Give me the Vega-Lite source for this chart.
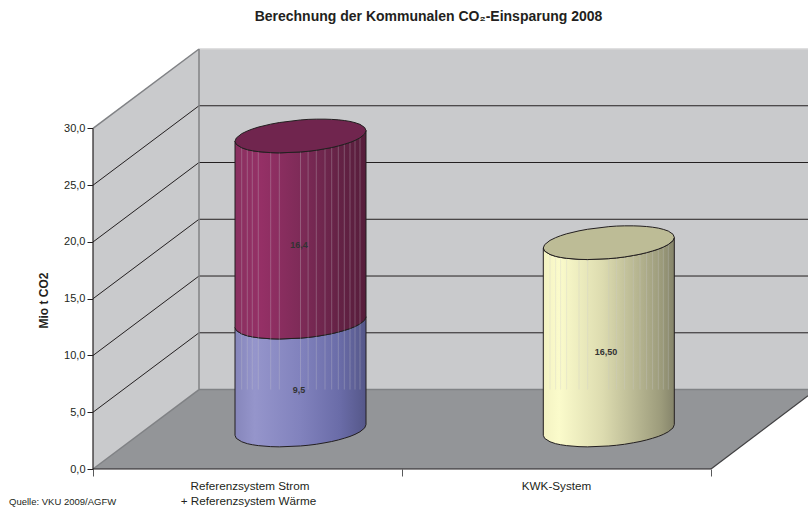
{
"$schema":"https://vega.github.io/schema/vega-lite/v6.json",
"width":715,"height":420,
"autosize":{"type":"none"},
"padding":{"left":93,"top":49,"right":0,"bottom":40},
"background":"white",
"view":{"stroke":null},
"title":{"text":"Berechnung der Kommunalen CO₂-Einsparung 2008","font":"Liberation Sans","fontSize":14,"fontWeight":"bold","color":"#231f20","anchor":"middle","dx":-22,"offset":24},
"datasets":{
"planes":[
{"part":"back","x":106,"lo":7,"hi":37},{"part":"back","x":715,"lo":7,"hi":37},
{"part":"side","x":0,"lo":0,"hi":30},{"part":"side","x":106,"lo":7,"hi":37},
{"part":"floor","x":0,"lo":0,"hi":0},{"part":"floor","x":106,"lo":0,"hi":7},{"part":"floor","x":618,"lo":0,"hi":7},{"part":"floor","x":715,"lo":6.45,"hi":7}
],
"lines":[
{"part":"grid","x":106,"x2":715,"lo":12,"hi":12},{"part":"grid","x":106,"x2":715,"lo":17,"hi":17},{"part":"grid","x":106,"x2":715,"lo":22,"hi":22},{"part":"grid","x":106,"x2":715,"lo":27,"hi":27},{"part":"grid","x":106,"x2":715,"lo":32,"hi":32},
{"part":"grid","x":0,"x2":106,"lo":5,"hi":12},{"part":"grid","x":0,"x2":106,"lo":10,"hi":17},{"part":"grid","x":0,"x2":106,"lo":15,"hi":22},{"part":"grid","x":0,"x2":106,"lo":20,"hi":27},{"part":"grid","x":0,"x2":106,"lo":25,"hi":32},
{"part":"edge","x":0,"x2":106,"lo":30,"hi":37},{"part":"edge","x":106,"x2":106,"lo":7,"hi":37},{"part":"edge","x":106,"x2":715,"lo":7,"hi":7},{"part":"edge","x":0,"x2":106,"lo":0,"hi":7},
{"part":"light","x":106,"x2":715,"lo":37,"hi":37},
{"part":"axis","x":0,"x2":0,"lo":0,"hi":30},{"part":"axis","x":0,"x2":618,"lo":0,"hi":0},{"part":"edge2","x":618,"x2":715,"lo":0,"hi":6.45}
],
"cyl":[
{"shape":"blue","x":142,"lo":2.97,"hi":12.47},{"shape":"blue","x":143.3,"lo":2.70,"hi":12.20},{"shape":"blue","x":148.7,"lo":2.40,"hi":11.90},{"shape":"blue","x":154.3,"lo":2.23,"hi":11.73},{"shape":"blue","x":159.3,"lo":2.14,"hi":11.64},{"shape":"blue","x":165.3,"lo":2.06,"hi":11.56},{"shape":"blue","x":177.7,"lo":1.97,"hi":11.47},{"shape":"blue","x":186.3,"lo":1.95,"hi":11.45},{"shape":"blue","x":207.5,"lo":2.03,"hi":11.53},{"shape":"blue","x":215.1,"lo":2.09,"hi":11.59},{"shape":"blue","x":223.3,"lo":2.18,"hi":11.68},{"shape":"blue","x":232,"lo":2.31,"hi":11.81},{"shape":"blue","x":238.7,"lo":2.42,"hi":11.92},{"shape":"blue","x":245.3,"lo":2.56,"hi":12.06},{"shape":"blue","x":251.3,"lo":2.71,"hi":12.21},{"shape":"blue","x":257,"lo":2.87,"hi":12.37},{"shape":"blue","x":262,"lo":3.05,"hi":12.55},{"shape":"blue","x":267,"lo":3.28,"hi":12.78},{"shape":"blue","x":271.7,"lo":3.62,"hi":13.12},{"shape":"blue","x":273,"lo":3.91,"hi":13.41},
{"shape":"red","x":142,"lo":12.47,"hi":28.87},{"shape":"red","x":143.3,"lo":12.20,"hi":28.60},{"shape":"red","x":148.7,"lo":11.90,"hi":28.30},{"shape":"red","x":154.3,"lo":11.73,"hi":28.13},{"shape":"red","x":159.3,"lo":11.64,"hi":28.04},{"shape":"red","x":165.3,"lo":11.56,"hi":27.96},{"shape":"red","x":177.7,"lo":11.47,"hi":27.87},{"shape":"red","x":186.3,"lo":11.45,"hi":27.85},{"shape":"red","x":207.5,"lo":11.53,"hi":27.93},{"shape":"red","x":215.1,"lo":11.59,"hi":27.99},{"shape":"red","x":223.3,"lo":11.68,"hi":28.08},{"shape":"red","x":232,"lo":11.81,"hi":28.21},{"shape":"red","x":238.7,"lo":11.92,"hi":28.32},{"shape":"red","x":245.3,"lo":12.06,"hi":28.46},{"shape":"red","x":251.3,"lo":12.21,"hi":28.61},{"shape":"red","x":257,"lo":12.37,"hi":28.77},{"shape":"red","x":262,"lo":12.55,"hi":28.95},{"shape":"red","x":267,"lo":12.78,"hi":29.18},{"shape":"red","x":271.7,"lo":13.12,"hi":29.52},{"shape":"red","x":273,"lo":13.41,"hi":29.81},
{"shape":"yellow","x":450.3,"lo":2.97,"hi":19.47},{"shape":"yellow","x":451.6,"lo":2.70,"hi":19.20},{"shape":"yellow","x":457,"lo":2.40,"hi":18.90},{"shape":"yellow","x":462.6,"lo":2.23,"hi":18.73},{"shape":"yellow","x":467.6,"lo":2.14,"hi":18.64},{"shape":"yellow","x":473.6,"lo":2.06,"hi":18.56},{"shape":"yellow","x":486,"lo":1.97,"hi":18.47},{"shape":"yellow","x":494.6,"lo":1.95,"hi":18.45},{"shape":"yellow","x":515.8,"lo":2.03,"hi":18.53},{"shape":"yellow","x":523.4,"lo":2.09,"hi":18.59},{"shape":"yellow","x":531.6,"lo":2.18,"hi":18.68},{"shape":"yellow","x":540.3,"lo":2.31,"hi":18.81},{"shape":"yellow","x":547,"lo":2.42,"hi":18.92},{"shape":"yellow","x":553.6,"lo":2.56,"hi":19.06},{"shape":"yellow","x":559.6,"lo":2.71,"hi":19.21},{"shape":"yellow","x":565.3,"lo":2.87,"hi":19.37},{"shape":"yellow","x":570.3,"lo":3.05,"hi":19.55},{"shape":"yellow","x":575.3,"lo":3.28,"hi":19.78},{"shape":"yellow","x":580,"lo":3.62,"hi":20.12},{"shape":"yellow","x":581.3,"lo":3.91,"hi":20.41}
],
"tops":[
{"shape":"red","x":142,"lo":28.87,"hi":28.87},{"shape":"red","x":143.3,"lo":28.60,"hi":29.16},{"shape":"red","x":148.7,"lo":28.30,"hi":29.54},{"shape":"red","x":154.3,"lo":28.13,"hi":29.78},{"shape":"red","x":159.3,"lo":28.04,"hi":29.95},{"shape":"red","x":165.3,"lo":27.96,"hi":30.12},{"shape":"red","x":177.7,"lo":27.87,"hi":30.38},{"shape":"red","x":186.3,"lo":27.85,"hi":30.52},{"shape":"red","x":207.5,"lo":27.93,"hi":30.75},{"shape":"red","x":215.1,"lo":27.99,"hi":30.80},{"shape":"red","x":223.3,"lo":28.08,"hi":30.82},{"shape":"red","x":232,"lo":28.21,"hi":30.82},{"shape":"red","x":238.7,"lo":28.32,"hi":30.80},{"shape":"red","x":245.3,"lo":28.46,"hi":30.76},{"shape":"red","x":251.3,"lo":28.61,"hi":30.70},{"shape":"red","x":257,"lo":28.77,"hi":30.62},{"shape":"red","x":262,"lo":28.95,"hi":30.51},{"shape":"red","x":267,"lo":29.18,"hi":30.36},{"shape":"red","x":271.7,"lo":29.52,"hi":30.08},{"shape":"red","x":273,"lo":29.81,"hi":29.81},
{"shape":"yellow","x":450.3,"lo":19.47,"hi":19.47},{"shape":"yellow","x":451.6,"lo":19.20,"hi":19.76},{"shape":"yellow","x":457,"lo":18.90,"hi":20.14},{"shape":"yellow","x":462.6,"lo":18.73,"hi":20.38},{"shape":"yellow","x":467.6,"lo":18.64,"hi":20.55},{"shape":"yellow","x":473.6,"lo":18.56,"hi":20.72},{"shape":"yellow","x":486,"lo":18.47,"hi":20.98},{"shape":"yellow","x":494.6,"lo":18.45,"hi":21.12},{"shape":"yellow","x":515.8,"lo":18.53,"hi":21.35},{"shape":"yellow","x":523.4,"lo":18.59,"hi":21.40},{"shape":"yellow","x":531.6,"lo":18.68,"hi":21.42},{"shape":"yellow","x":540.3,"lo":18.81,"hi":21.42},{"shape":"yellow","x":547,"lo":18.92,"hi":21.40},{"shape":"yellow","x":553.6,"lo":19.06,"hi":21.36},{"shape":"yellow","x":559.6,"lo":19.21,"hi":21.30},{"shape":"yellow","x":565.3,"lo":19.37,"hi":21.22},{"shape":"yellow","x":570.3,"lo":19.55,"hi":21.11},{"shape":"yellow","x":575.3,"lo":19.78,"hi":20.96},{"shape":"yellow","x":580,"lo":20.12,"hi":20.68},{"shape":"yellow","x":581.3,"lo":20.41,"hi":20.41}
],
"texts":[
{"kind":"value","x":206,"lo":19.7,"label":"16,4"},
{"kind":"value","x":206,"lo":6.96,"label":"9,5"},
{"kind":"value","x":513,"lo":10.3,"label":"16,50"},
{"kind":"cat","x":157,"lo":-1.5,"label":"Referenzsystem Strom"},
{"kind":"cat","x":155.5,"lo":-2.82,"label":"+ Referenzsystem Wärme"},
{"kind":"cat","x":463.5,"lo":-1.5,"label":"KWK-System"},
{"kind":"source","x":-84,"lo":-2.93,"label":"Quelle: VKU 2009/AGFW"}
]
},
"encoding":{
"x":{"field":"x","type":"quantitative","scale":{"domain":[0,715],"nice":false,"zero":false},"axis":{"values":[0,309,618],"labels":false,"ticks":true,"tickSize":7,"tickColor":"#58595b","domain":false,"grid":false,"title":null}},
"y":{"field":"lo","type":"quantitative","scale":{"domain":[0,37],"nice":false,"zero":false},"axis":{"values":[0,5,10,15,20,25,30],"labelExpr":"replace(format(datum.value,'.1f'),'.',',')","labelFont":"Liberation Sans","labelFontSize":11,"labelColor":"#231f20","labelPadding":2,"tickSize":6,"tickColor":"#231f20","domain":false,"grid":false,"title":"Mio t CO2","titleFont":"Liberation Sans","titleFontSize":12,"titleFontWeight":"bold","titleColor":"#231f20","titleX":-43,"titleY":251}},
"y2":{"field":"hi"}
},
"layer":[
{"data":{"name":"planes"},"transform":[{"filter":"datum.part=='back'"}],"mark":{"type":"area","orient":"vertical","color":"#c9cacc"}},
{"data":{"name":"planes"},"transform":[{"filter":"datum.part=='side'"}],"mark":{"type":"area","orient":"vertical","color":"#c9cacc"}},
{"data":{"name":"planes"},"transform":[{"filter":"datum.part=='floor'"}],"mark":{"type":"area","orient":"vertical","color":"#939598"}},
{"data":{"name":"lines"},"transform":[{"filter":"datum.part=='light'"}],"mark":{"type":"rule","color":"#d4d5d6","strokeWidth":1.5},"encoding":{"x2":{"field":"x2"}}},
{"data":{"name":"lines"},"transform":[{"filter":"datum.part=='grid'"}],"mark":{"type":"rule","color":"#231f20","strokeWidth":1},"encoding":{"x2":{"field":"x2"}}},
{"data":{"name":"lines"},"transform":[{"filter":"datum.part=='edge'"}],"mark":{"type":"rule","color":"#808285","strokeWidth":1.5},"encoding":{"x2":{"field":"x2"}}},
{"data":{"name":"lines"},"transform":[{"filter":"datum.part=='edge2'"}],"mark":{"type":"rule","color":"#414042","strokeWidth":1.2},"encoding":{"x2":{"field":"x2"}}},
{"data":{"name":"lines"},"transform":[{"filter":"datum.part=='axis'"}],"mark":{"type":"rule","color":"#231f20","strokeWidth":1.2},"encoding":{"x2":{"field":"x2"}}},
{"data":{"name":"cyl"},"transform":[{"filter":"datum.shape=='blue'"}],"mark":{"type":"area","orient":"vertical","stroke":"#231f20","strokeWidth":1,"fill":{"gradient":"linear","x1":0,"y1":0,"x2":1,"y2":0,"stops":[{"offset":0,"color":"#8686bb"},{"offset":0.15,"color":"#9595cb"},{"offset":0.5,"color":"#8182bd"},{"offset":0.8,"color":"#6a6ca8"},{"offset":1,"color":"#555789"}]}}},
{"data":{"name":"cyl"},"transform":[{"filter":"datum.shape=='red'"}],"mark":{"type":"area","orient":"vertical","stroke":"#231f20","strokeWidth":1,"fill":{"gradient":"linear","x1":0,"y1":0,"x2":1,"y2":0,"stops":[{"offset":0,"color":"#8a3060"},{"offset":0.2,"color":"#953066"},{"offset":0.5,"color":"#7e2b58"},{"offset":0.8,"color":"#642245"},{"offset":1,"color":"#571d3b"}]}}},
{"data":{"name":"cyl"},"transform":[{"filter":"datum.shape=='yellow'"}],"mark":{"type":"area","orient":"vertical","stroke":"#231f20","strokeWidth":1,"fill":{"gradient":"linear","x1":0,"y1":0,"x2":1,"y2":0,"stops":[{"offset":0,"color":"#f3f2c2"},{"offset":0.12,"color":"#fbfbcb"},{"offset":0.45,"color":"#dddcb0"},{"offset":0.7,"color":"#b9b893"},{"offset":0.9,"color":"#9c9b7b"},{"offset":1,"color":"#85846a"}]}}},
{"data":{"name":"cyl"},"transform":[{"filter":"datum.shape!='red' && ((datum.x>144&&datum.x<271)||(datum.x>452&&datum.x<579))"}],"mark":{"type":"rule","color":"#c9cacc","strokeWidth":1,"opacity":0.3},"encoding":{"y":{"datum":7},"y2":{"field":"hi"}}},
{"data":{"name":"cyl"},"transform":[{"filter":"datum.shape=='red' && datum.x>144&&datum.x<271"}],"mark":{"type":"rule","color":"#c9cacc","strokeWidth":1,"opacity":0.3}},
{"data":{"name":"tops"},"transform":[{"filter":"datum.shape=='red'"}],"mark":{"type":"area","orient":"vertical","color":"#70254e","stroke":"#231f20","strokeWidth":1}},
{"data":{"name":"tops"},"transform":[{"filter":"datum.shape=='yellow'"}],"mark":{"type":"area","orient":"vertical","color":"#bdbc96","stroke":"#231f20","strokeWidth":1}},
{"data":{"name":"texts"},"transform":[{"filter":"datum.kind=='value'"}],"mark":{"type":"text","font":"Liberation Sans","fontSize":9,"fontWeight":"bold","color":"#333333"},"encoding":{"y2":null,"text":{"field":"label"}}},
{"data":{"name":"texts"},"transform":[{"filter":"datum.kind=='cat'"}],"mark":{"type":"text","font":"Liberation Sans","fontSize":11.7,"color":"#231f20"},"encoding":{"y2":null,"text":{"field":"label"}}},
{"data":{"name":"texts"},"transform":[{"filter":"datum.kind=='source'"}],"mark":{"type":"text","font":"Liberation Sans","fontSize":9.5,"color":"#231f20","align":"left"},"encoding":{"y2":null,"text":{"field":"label"}}}
]
}
